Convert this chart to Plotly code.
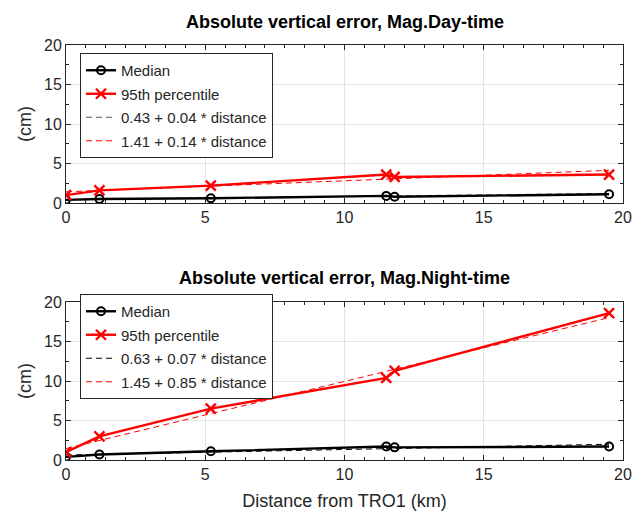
import plotly.graph_objects as go

# Data
dist = [0.0, 1.2, 5.2, 11.5, 11.8, 19.5]
day_median = [0.4, 0.5, 0.6, 0.9, 0.8, 1.1]
day_p95 = [1.0, 1.6, 2.2, 3.6, 3.3, 3.6]
night_median = [0.4, 0.7, 1.1, 1.7, 1.6, 1.7]
night_p95 = [1.0, 3.0, 6.5, 10.4, 11.3, 18.6]
day_fit_med = (0.43, 0.04)
day_fit_p95 = (1.41, 0.14)
night_fit_med = (0.63, 0.07)
night_fit_p95 = (1.45, 0.85)
x_ticks = [0, 5, 10, 15, 20]
y_ticks = [0, 5, 10, 15, 20]

W, H = 642, 516
FONT = "Liberation Sans, Arial, sans-serif"

def fit_vals(c):
    return [c[0] + c[1] * d for d in dist]

def fmt(c):
    return f"{c[0]:.2f} + {c[1]:.2f} * distance"

fig = go.Figure()

def add_panel(xa, ya, legend, med, p95, fmed, fp95, medfitcolor):
    fig.add_trace(go.Scatter(x=dist, y=fit_vals(fmed), mode="lines", name=fmt(fmed),
                             line=dict(color=medfitcolor, width=1, dash="6px,4px"),
                             xaxis=xa, yaxis=ya, legend=legend, legendrank=3, legendgroup=legend + "c"))
    fig.add_trace(go.Scatter(x=dist, y=fit_vals(fp95), mode="lines", name=fmt(fp95),
                             line=dict(color="#ff0000", width=1, dash="6px,4px"),
                             xaxis=xa, yaxis=ya, legend=legend, legendrank=4, legendgroup=legend + "d"))
    fig.add_trace(go.Scatter(x=dist, y=med, mode="lines+markers", name="Median",
                             line=dict(color="black", width=2.4),
                             marker=dict(symbol="circle-open", size=8, color="black", line=dict(width=2)),
                             xaxis=xa, yaxis=ya, legend=legend, legendrank=1, legendgroup=legend + "a"))
    fig.add_trace(go.Scatter(x=dist, y=p95, mode="lines+markers", name="95th percentile",
                             line=dict(color="#ff0000", width=2.4),
                             marker=dict(symbol="x-thin-open", size=10, color="#ff0000", line=dict(width=2.4, color="#ff0000")),
                             xaxis=xa, yaxis=ya, legend=legend, legendrank=2, legendgroup=legend + "b"))

add_panel("x", "y", "legend", day_median, day_p95, day_fit_med, day_fit_p95, "#555555")
add_panel("x2", "y2", "legend2", night_median, night_p95, night_fit_med, night_fit_p95, "black")

x0, x1 = 66 / W, 623 / W
axis_common = dict(showline=True, linecolor="#262626", linewidth=1, mirror="allticks",
                   ticks="inside", ticklen=5, tickcolor="#262626", automargin=False,
                   showgrid=True, gridcolor="#e3e3e3", gridwidth=1, zeroline=False,
                   tickfont=dict(family=FONT, size=16, color="#262626"))
xcommon = dict(axis_common, range=[0, 20], tickvals=x_ticks,
               minor=dict(ticks="inside", ticklen=3, dtick=5 / 7, tick0=0, tickcolor="#262626", showgrid=False))
ycommon = dict(axis_common, range=[0, 20], tickvals=y_ticks,
               minor=dict(ticks="inside", ticklen=3, dtick=2.5, tick0=0, tickcolor="#262626", showgrid=False))

leg = dict(xanchor="left", yanchor="top", bgcolor="white", bordercolor="#262626", borderwidth=1,
           font=dict(family=FONT, size=15, color="#262626"),
           traceorder="grouped", tracegroupgap=1, itemwidth=30)

fig.update_layout(
    template="none",
    width=W, height=H, margin=dict(l=0, r=0, t=0, b=0, autoexpand=False),
    paper_bgcolor="white", plot_bgcolor="white",
    font=dict(family=FONT, size=15, color="#262626"),
    xaxis=dict(xcommon, domain=[x0, x1], anchor="y"),
    yaxis=dict(ycommon, domain=[1 - 203 / H, 1 - 45 / H], anchor="x",
               title=dict(text="(cm)", font=dict(family=FONT, size=18), standoff=7)),
    xaxis2=dict(xcommon, domain=[x0, x1], anchor="y2",
                title=dict(text="Distance from TRO1 (km)", font=dict(family=FONT, size=18), standoff=12)),
    yaxis2=dict(ycommon, domain=[1 - 460 / H, 1 - 302 / H], anchor="x2",
                title=dict(text="(cm)", font=dict(family=FONT, size=18), standoff=7)),
    legend=dict(leg, x=80 / W, y=1 - 53 / H),
    legend2=dict(leg, x=80 / W, y=1 - 294 / H),
    showlegend=True,
    annotations=[
        dict(text="<b>Absolute vertical error, Mag.Day-time</b>", x=(x0 + x1) / 2, y=1 - 22 / H,
             xref="paper", yref="paper", showarrow=False, xanchor="center", yanchor="middle",
             font=dict(family=FONT, size=18, color="black")),
        dict(text="<b>Absolute vertical error, Mag.Night-time</b>", x=(x0 + x1) / 2, y=1 - 278 / H,
             xref="paper", yref="paper", showarrow=False, xanchor="center", yanchor="middle",
             font=dict(family=FONT, size=18, color="black")),
    ],
)

fig.write_html("out.html")
